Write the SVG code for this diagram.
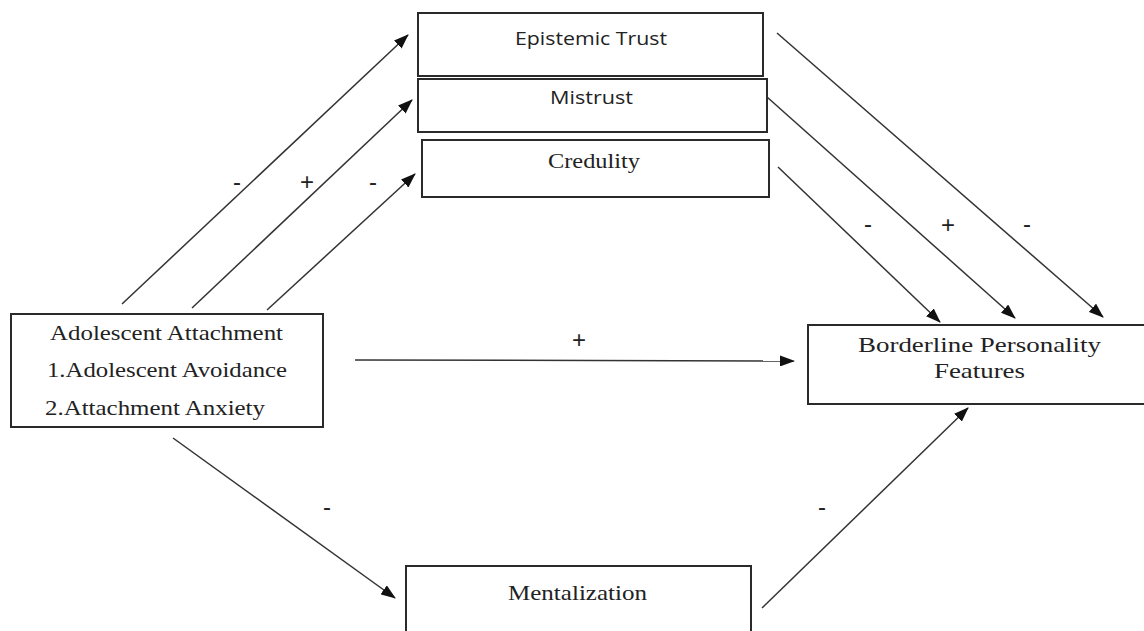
<svg xmlns="http://www.w3.org/2000/svg" width="1144" height="631" viewBox="0 0 1144 631">
<style>
.box{fill:#fff;stroke:#2a2a2a;stroke-width:2}
.sans{font-family:"Open Sans","Liberation Sans",sans-serif;font-size:18px;fill:#222}
.serif{font-family:"Liberation Serif","Times New Roman",serif;font-size:21px;fill:#222}
.lab{font-family:"Liberation Sans",Arial,sans-serif;font-size:24px;fill:#222;text-anchor:middle}
.edge{stroke:#333;stroke-width:1.5;fill:none;marker-end:url(#ah)}
</style>
<defs>
<marker id="ah" markerUnits="userSpaceOnUse" markerWidth="15" markerHeight="11" refX="14" refY="5.5" orient="auto">
<path d="M0,0 L15,5.5 L0,11 z" fill="#111"/>
</marker>
</defs>
<rect width="1144" height="631" fill="#fff"/>
<g id="epistemic-trust">
<rect class="box" x="418" y="13" width="345" height="63"/>
<text class="sans" x="515" y="45" textLength="152" lengthAdjust="spacingAndGlyphs">Epistemic Trust</text>
</g>
<g id="mistrust">
<rect class="box" x="418" y="79" width="349" height="53"/>
<text class="sans" x="550" y="104" textLength="83" lengthAdjust="spacingAndGlyphs">Mistrust</text>
</g>
<g id="credulity">
<rect class="box" x="422" y="140" width="347" height="57"/>
<text class="serif" x="548" y="168" textLength="92" lengthAdjust="spacingAndGlyphs">Credulity</text>
</g>
<g id="adolescent-attachment">
<rect class="box" x="11" y="314" width="312" height="113"/>
<text class="serif" x="50" y="340" textLength="233" lengthAdjust="spacingAndGlyphs">Adolescent Attachment</text>
<text class="serif" x="47" y="377" textLength="240" lengthAdjust="spacingAndGlyphs">1.Adolescent Avoidance</text>
<text class="serif" x="45" y="415" textLength="220" lengthAdjust="spacingAndGlyphs">2.Attachment Anxiety</text>
</g>
<g id="borderline">
<rect class="box" x="808" y="325" width="345" height="79"/>
<text class="serif" x="858" y="352" textLength="243" lengthAdjust="spacingAndGlyphs">Borderline Personality</text>
<text class="serif" x="934" y="378" textLength="91" lengthAdjust="spacingAndGlyphs">Features</text>
</g>
<g id="mentalization">
<rect class="box" x="406" y="566" width="345" height="80"/>
<text class="serif" x="508" y="600" textLength="139" lengthAdjust="spacingAndGlyphs">Mentalization</text>
</g>
<g id="connectors">
<line class="edge" x1="122" y1="304" x2="408" y2="35"/>
<line class="edge" x1="192" y1="308" x2="412" y2="100"/>
<line class="edge" x1="267" y1="310" x2="415" y2="174"/>
<line class="edge" x1="777" y1="33" x2="1103" y2="317"/>
<line class="edge" x1="767" y1="97" x2="1015" y2="318"/>
<line class="edge" x1="778" y1="167" x2="940" y2="322"/>
<line class="edge" x1="355" y1="360" x2="794" y2="361"/>
<line class="edge" x1="173" y1="438" x2="395" y2="598"/>
<line class="edge" x1="762" y1="608" x2="968" y2="408"/>
</g>
<g id="labels">
<text class="lab" x="237" y="190">-</text>
<text class="lab" x="307" y="190">+</text>
<text class="lab" x="373" y="190">-</text>
<text class="lab" x="868" y="232">-</text>
<text class="lab" x="948" y="233">+</text>
<text class="lab" x="1027" y="232">-</text>
<text class="lab" x="579" y="348">+</text>
<text class="lab" x="327" y="515">-</text>
<text class="lab" x="822" y="515">-</text>
</g>
</svg>
